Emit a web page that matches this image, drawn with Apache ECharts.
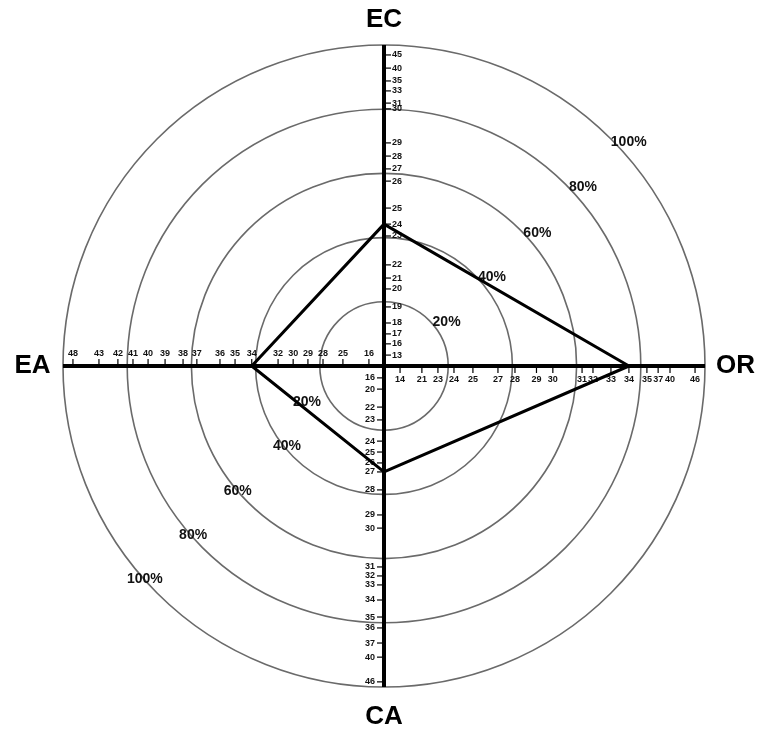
<!DOCTYPE html>
<html>
<head>
<meta charset="utf-8">
<script src="https://cdn.jsdelivr.net/npm/echarts@6/dist/echarts.min.js"></script>
<style>
html,body{margin:0;padding:0;background:#fff;}
#chart{width:762px;height:734px;}
</style>
</head>
<body>
<div id="chart"></div>
<script>
// Axis names
const axisNames = ['EC', 'OR', 'CA', 'EA'];
// Raw score tick labels for each axis and their percentile positions (%)
const ecScores = [13,16,17,18,19,20,21,22,23,24,25,26,27,28,29,30,31,33,35,40,45];
const ecPct    = [3.4,6.9,10.0,13.4,18.4,24.0,27.4,31.5,40.5,44.2,49.2,57.6,61.4,65.4,69.5,80.1,81.9,85.7,88.8,92.8,96.9];
const orScores = [14,21,23,24,25,27,28,29,30,31,32,33,34,35,37,40,46];
const orPct    = [5.0,11.8,16.8,21.8,27.7,35.5,40.8,47.5,52.6,61.7,65.1,70.7,76.3,81.9,85.4,89.1,96.9];
const caScores = [16,20,22,23,24,25,26,27,28,29,30,31,32,33,34,35,36,37,40,46];
const caPct    = [3.7,7.2,12.8,16.8,23.4,26.8,30.2,33.0,38.6,46.4,50.5,62.6,65.4,68.2,72.9,78.2,81.6,86.3,90.7,98.4];
const eaScores = [16,25,28,29,30,32,34,35,36,37,38,39,40,41,42,43,48];
const eaPct    = [4.7,12.8,19.0,23.7,28.3,33.0,41.2,46.4,51.1,58.3,62.6,68.2,73.5,78.2,82.9,88.8,96.9];
// Ring levels (%)
const rings = [20, 40, 60, 80, 100];
const ringLabels = ['20%', '40%', '60%', '80%', '100%'];
// Profile scores
const profile = {EC: 24, OR: 34, CA: 27, EA: 34};

const axisScores = [ecScores, orScores, caScores, eaScores];
const axisPct = [ecPct, orPct, caPct, eaPct];

function pctOf(axisIdx, score) {
  const i = axisScores[axisIdx].indexOf(score);
  return axisPct[axisIdx][i];
}
// direction vectors for EC (up), OR (right), CA (down), EA (left)
const dirs = [[0,1],[1,0],[0,-1],[-1,0]];
function pt(axisIdx, p) { return [dirs[axisIdx][0]*p, dirs[axisIdx][1]*p]; }

const polyData = axisNames.map((n, i) => pt(i, pctOf(i, profile[n])));
polyData.push(polyData[0]);

const tickData = [];
axisScores.forEach((arr, ai) => arr.forEach((s, k) => tickData.push([ai, axisPct[ai][k], s])));

const FONT = '"Liberation Sans", Arial, sans-serif';
// label placement (layout)
const urAng = [35, 39.5, 41, 42, 42.5], urOff = [3.8, 3.6, 3.3, 3.4, 3.4];
const llAng = [205, 219.5, 220.5, 221.5, 221.7], llOff = [6.5, -0.8, -0.1, -0.6, -0.2];

const chart = echarts.init(document.getElementById('chart'));
chart.setOption({
  animation: false,
  backgroundColor: '#fff',
  grid: {left: 63, top: 45, width: 642, height: 642},
  xAxis: {type: 'value', min: -100, max: 100, show: false},
  yAxis: {type: 'value', min: -100, max: 100, show: false},
  series: [
    { // rings
      type: 'custom', silent: true, clip: false, z: 1,
      data: rings.map((r, i) => [r, i]),
      renderItem: function (params, api) {
        const r = api.value(0);
        const c = api.coord([0, 0]);
        const e = api.coord([r, 0]);
        return {type: 'circle', shape: {cx: c[0], cy: c[1], r: e[0] - c[0]},
                style: {fill: 'none', stroke: '#6a6a6a', lineWidth: 1.6}};
      }
    },
    { // ring labels
      type: 'custom', silent: true, clip: false, z: 3,
      data: rings.map((r, i) => [r, i]),
      renderItem: function (params, api) {
        const r = api.value(0);
        const i = api.value(1);
        const a1 = urAng[i] * Math.PI / 180;
        const r1 = r + urOff[i];
        const p1 = api.coord([r1 * Math.cos(a1), r1 * Math.sin(a1)]);
        const a2 = llAng[i] * Math.PI / 180;
        const r2 = r + llOff[i];
        const p2 = api.coord([r2 * Math.cos(a2), r2 * Math.sin(a2)]);
        const st = {text: ringLabels[i], fill: '#111', font: 'bold 14px ' + FONT, align: 'center', verticalAlign: 'middle'};
        return {type: 'group', children: [
          {type: 'text', x: p1[0], y: p1[1], style: Object.assign({}, st)},
          {type: 'text', x: p2[0], y: p2[1], style: Object.assign({}, st)}
        ]};
      }
    },
    { // main axes
      type: 'custom', silent: true, clip: false, z: 4,
      data: [[0], [1]],
      renderItem: function (params, api) {
        const k = api.value(0);
        const a = k === 0 ? api.coord([-100, 0]) : api.coord([0, -100]);
        const b = k === 0 ? api.coord([100, 0]) : api.coord([0, 100]);
        return {type: 'line', shape: {x1: a[0], y1: a[1], x2: b[0], y2: b[1]},
                style: {stroke: '#000', lineWidth: 4}};
      }
    },
    { // ticks and tick labels
      type: 'custom', silent: true, clip: false, z: 5,
      data: tickData,
      renderItem: function (params, api) {
        const ai = api.value(0), p = api.value(1), s = api.value(2);
        const q = api.coord(pt(ai, p));
        let line, text;
        const font = 'bold 9px ' + FONT;
        if (ai === 0) {
          line = {x1: q[0] + 2, y1: q[1], x2: q[0] + 7, y2: q[1]};
          text = {x: q[0] + 8, y: q[1], align: 'left', verticalAlign: 'middle'};
        } else if (ai === 1) {
          line = {x1: q[0], y1: q[1] + 2, x2: q[0], y2: q[1] + 7};
          text = {x: q[0], y: q[1] + 9, align: 'center', verticalAlign: 'top'};
        } else if (ai === 2) {
          line = {x1: q[0] - 2, y1: q[1], x2: q[0] - 7, y2: q[1]};
          text = {x: q[0] - 9, y: q[1], align: 'right', verticalAlign: 'middle'};
        } else {
          line = {x1: q[0], y1: q[1] - 2, x2: q[0], y2: q[1] - 7};
          text = {x: q[0], y: q[1] - 8, align: 'center', verticalAlign: 'bottom'};
        }
        return {type: 'group', children: [
          {type: 'line', shape: line, style: {stroke: '#000', lineWidth: 1.2}},
          {type: 'text', x: text.x, y: text.y,
           style: {text: String(s), fill: '#111', font: font, align: text.align, verticalAlign: text.verticalAlign}}
        ]};
      }
    },
    { // axis titles
      type: 'custom', silent: true, clip: false, z: 6,
      data: axisNames.map((n, i) => [i]),
      renderItem: function (params, api) {
        const i = api.value(0);
        const offs = [107.8, 109.5, 109.2, 109.5];
        const q = api.coord(pt(i, offs[i]));
        return {type: 'text', x: q[0], y: q[1],
                style: {text: axisNames[i], fill: '#000', font: 'bold 26px ' + FONT, align: 'center', verticalAlign: 'middle'}};
      }
    },
    { // profile polygon
      type: 'line', z: 7,
      data: polyData,
      symbol: 'none',
      lineStyle: {color: '#000', width: 3},
      silent: true
    }
  ]
});
</script>
</body>
</html>
